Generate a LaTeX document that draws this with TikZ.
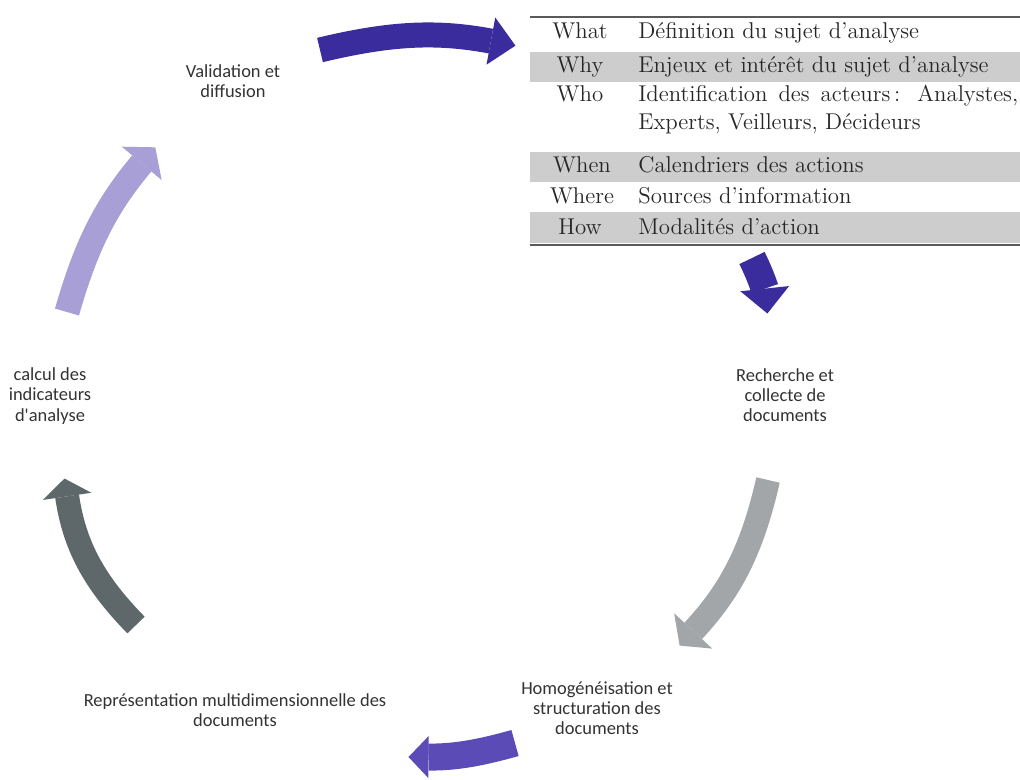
\documentclass[tikz,border=0pt]{standalone}
\usepackage{fontspec}
\newfontfamily\labelfont{Carlito}
\usepackage{tikz}
\usetikzlibrary{arrows.meta, positioning, calc}
\definecolor{cycledark}{HTML}{3B2C9E}
\definecolor{cyclemid}{HTML}{5A4BB6}
\definecolor{cyclelight}{HTML}{A79FD5}
\definecolor{cyclegrey}{HTML}{A3A6A9}
\definecolor{cycleslate}{HTML}{5E6769}
\definecolor{rowgrey}{HTML}{CDCDCD}
\definecolor{labeltext}{HTML}{333333}

\begin{document}
\begin{tikzpicture}[
    x=0.02cm,
    y=0.02cm,
    phase/.style={
        font=\labelfont\fontsize{10.5}{11.5}\selectfont,
        align=center,
        text=labeltext
    },
    cell/.style={
        font=\fontsize{13}{15}\selectfont,
        text height=9pt,
        text depth=3pt,
        inner sep=0pt,
        text=black!85
    },
    blockarrow/.style n args={3}{
        line width=#1,
        shorten >=-2pt,
        -{Triangle[length=#2, width=#3, line width=0pt]}
    }
]

% Canvas
\fill[white] (0,0) rectangle (1020,-779);
\useasboundingbox (0,0) rectangle (1020,-779);

% Table rows
\fill[rowgrey] (530,-52) rectangle (1020,-82);
\fill[rowgrey] (530,-152) rectangle (1020,-182);
\fill[rowgrey] (530,-212) rectangle (1020,-243);
\draw[black!65, line width=0.6pt] (530,-17) -- (1020,-17);
\draw[black!65, line width=1.2pt] (530,-245) -- (1020,-245);

% Table cells
\node[cell] (what) at (580,-33) {What};
\node[cell] (why) at (580,-67) {Why};
\node[cell] (who) at (580,-96) {Who};
\node[cell] (when) at (582,-167) {When};
\node[cell] (where) at (582,-198) {Where};
\node[cell] (how) at (580,-229) {How};

\node[cell, anchor=west] (whatdef) at (638,-33) {Définition du sujet d’analyse};
\node[cell, anchor=west] (whydef) at (638,-67) {Enjeux et intérêt du sujet d’analyse};
\node[cell, anchor=west] (whodef) at (638,-96) {\makebox[7.6cm][s]{Identification des acteurs\,: Analystes,}};
\node[cell, anchor=west] (whodef2) at (638,-124) {Experts, Veilleurs, Décideurs};
\node[cell, anchor=west] (whendef) at (638,-167) {Calendriers des actions};
\node[cell, anchor=west] (wheredef) at (638,-198) {Sources d’information};
\node[cell, anchor=west] (howdef) at (638,-229) {Modalités d’action};

% Cycle labels
\node[phase] (valid) at (233,-81) {Validation et\\diffusion};
\node[phase] (calcul) at (50,-396) {calcul des\\indicateurs\\d'analyse};
\node[phase] (recherche) at (785,-395) {Recherche et\\collecte de\\documents};
\node[phase] (homog) at (597,-708) {Homogénéisation et\\structuration des\\documents};
\node[phase] (repres) at (235,-710) {Représentation multidimensionnelle des\\documents};

% Arrow ends
\coordinate (topS) at (320,-50);
\coordinate (topE) at (512,-45);
\coordinate (downS) at (752,-258);
\coordinate (downE) at (767,-310);
\coordinate (greyS) at (768,-480);
\coordinate (greyE) at (682,-643);
\coordinate (botS) at (515,-743);
\coordinate (botE) at (412,-757);
\coordinate (slateS) at (136,-625);
\coordinate (slateE) at (65,-482);
\coordinate (lightS) at (67,-312);
\coordinate (lightE) at (153,-150);

% Arrows
\draw[blockarrow={0.5cm}{0.5cm}{0.96cm}, cycledark] (topS) to[bend left=12] (topE);
\draw[blockarrow={0.56cm}{0.5cm}{0.98cm}, cycledark] (downS) to[bend left=10] (downE);
\draw[blockarrow={0.48cm}{0.4cm}{1.04cm}, cyclegrey] (greyS) to[bend left=15] (greyE);
\draw[blockarrow={0.54cm}{0.4cm}{0.84cm}, cyclemid] (botS) to[bend left=8] (botE);
\draw[blockarrow={0.48cm}{0.36cm}{0.98cm}, cycleslate] (slateS) to[bend left=18] (slateE);
\draw[blockarrow={0.5cm}{0.42cm}{1.04cm}, cyclelight] (lightS) to[bend left=12] (lightE);

\end{tikzpicture}
\end{document}
